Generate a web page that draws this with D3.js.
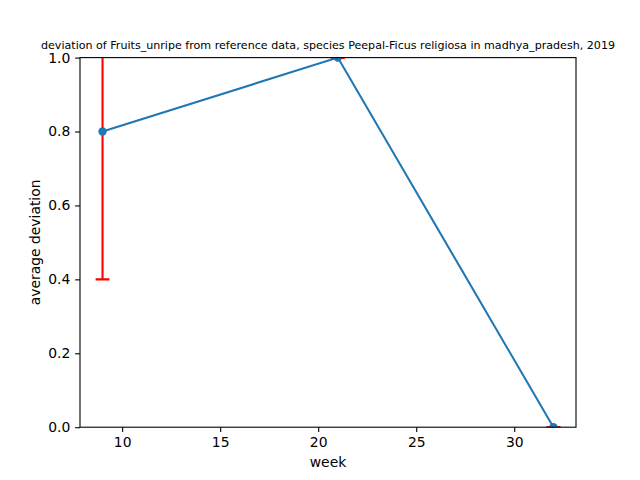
<!DOCTYPE html>
<html><head><meta charset="utf-8">
<script src="https://cdn.jsdelivr.net/npm/d3@7"></script>
<style>body{margin:0;background:#fff}svg{display:block}text{font-family:"DejaVu Sans",sans-serif}</style>
</head><body>
<script>
const weeks = [9, 21, 32];
const values = [0.8, 1.0, 0.0];
const errors = [0.4, 0.0, 0.0];
const xTicks = [10, 15, 20, 25, 30];
const yTicks = [0.0, 0.2, 0.4, 0.6, 0.8, 1.0];
const titleText = "deviation of Fruits_unripe from reference data, species Peepal-Ficus religiosa in madhya_pradesh, 2019";

const W = 640, H = 480;
const m = {l: 80, r: 576, t: 57.6, b: 427.2};
const svg = d3.select("body").append("svg").attr("width", W).attr("height", H);

const x = d3.scaleLinear().domain([7.85, 33.15]).range([m.l, m.r]);
const y = d3.scaleLinear().domain([0, 1]).range([m.b, m.t]);

svg.append("defs").append("clipPath").attr("id", "clip")
  .append("rect").attr("x", m.l).attr("y", m.t).attr("width", m.r - m.l).attr("height", m.b - m.t);

const plot = svg.append("g").attr("clip-path", "url(#clip)");
const data = weeks.map((w, i) => ({w, v: values[i], e: errors[i]}));

// error bars
const eb = plot.append("g").attr("stroke", "red").attr("stroke-width", 2.08);
data.forEach(d => {
  eb.append("line").attr("x1", x(d.w)).attr("x2", x(d.w)).attr("y1", y(d.v - d.e)).attr("y2", y(d.v + d.e));
  [d.v - d.e, d.v + d.e].forEach(yy => {
    eb.append("line").attr("x1", x(d.w) - 6.9).attr("x2", x(d.w) + 6.9).attr("y1", y(yy)).attr("y2", y(yy));
  });
});

plot.append("path").datum(data)
  .attr("fill", "none").attr("stroke", "#1f77b4").attr("stroke-width", 2.08)
  .attr("d", d3.line().x(d => x(d.w)).y(d => y(d.v)));
plot.selectAll("circle").data(data).enter().append("circle")
  .attr("cx", d => x(d.w)).attr("cy", d => y(d.v)).attr("r", 4.17).attr("fill", "#1f77b4");

// axes
const xAxis = svg.append("g").attr("transform", `translate(0,${m.b})`)
  .call(d3.axisBottom(x).tickValues(xTicks).tickSize(4.86).tickPadding(4.86).tickFormat(d3.format("d")));
const yAxis = svg.append("g").attr("transform", `translate(${m.l},0)`)
  .call(d3.axisLeft(y).tickValues(yTicks).tickSize(4.86).tickPadding(4.86).tickFormat(d3.format(".1f")));
[xAxis, yAxis].forEach(a => {
  a.select(".domain").remove();
  a.selectAll(".tick line").attr("stroke", "#000").attr("stroke-width", 1.1);
  a.selectAll(".tick text").attr("fill", "#000").style("font-size", "13.9px").style("font-family", "DejaVu Sans");
});

svg.append("rect").attr("x", m.l).attr("y", m.t).attr("width", m.r - m.l).attr("height", m.b - m.t)
  .attr("fill", "none").attr("stroke", "#000").attr("stroke-width", 1.1);

svg.append("text").attr("x", (m.l + m.r) / 2).attr("y", 49).attr("text-anchor", "middle")
  .style("font-size", "11.1px").text(titleText);
svg.append("text").attr("x", (m.l + m.r) / 2).attr("y", 467).attr("text-anchor", "middle")
  .style("font-size", "13.9px").text("week");
svg.append("text").attr("transform", `translate(40,${(m.t + m.b) / 2}) rotate(-90)`).attr("text-anchor", "middle")
  .style("font-size", "13.9px").text("average deviation");
</script>
</body></html>
